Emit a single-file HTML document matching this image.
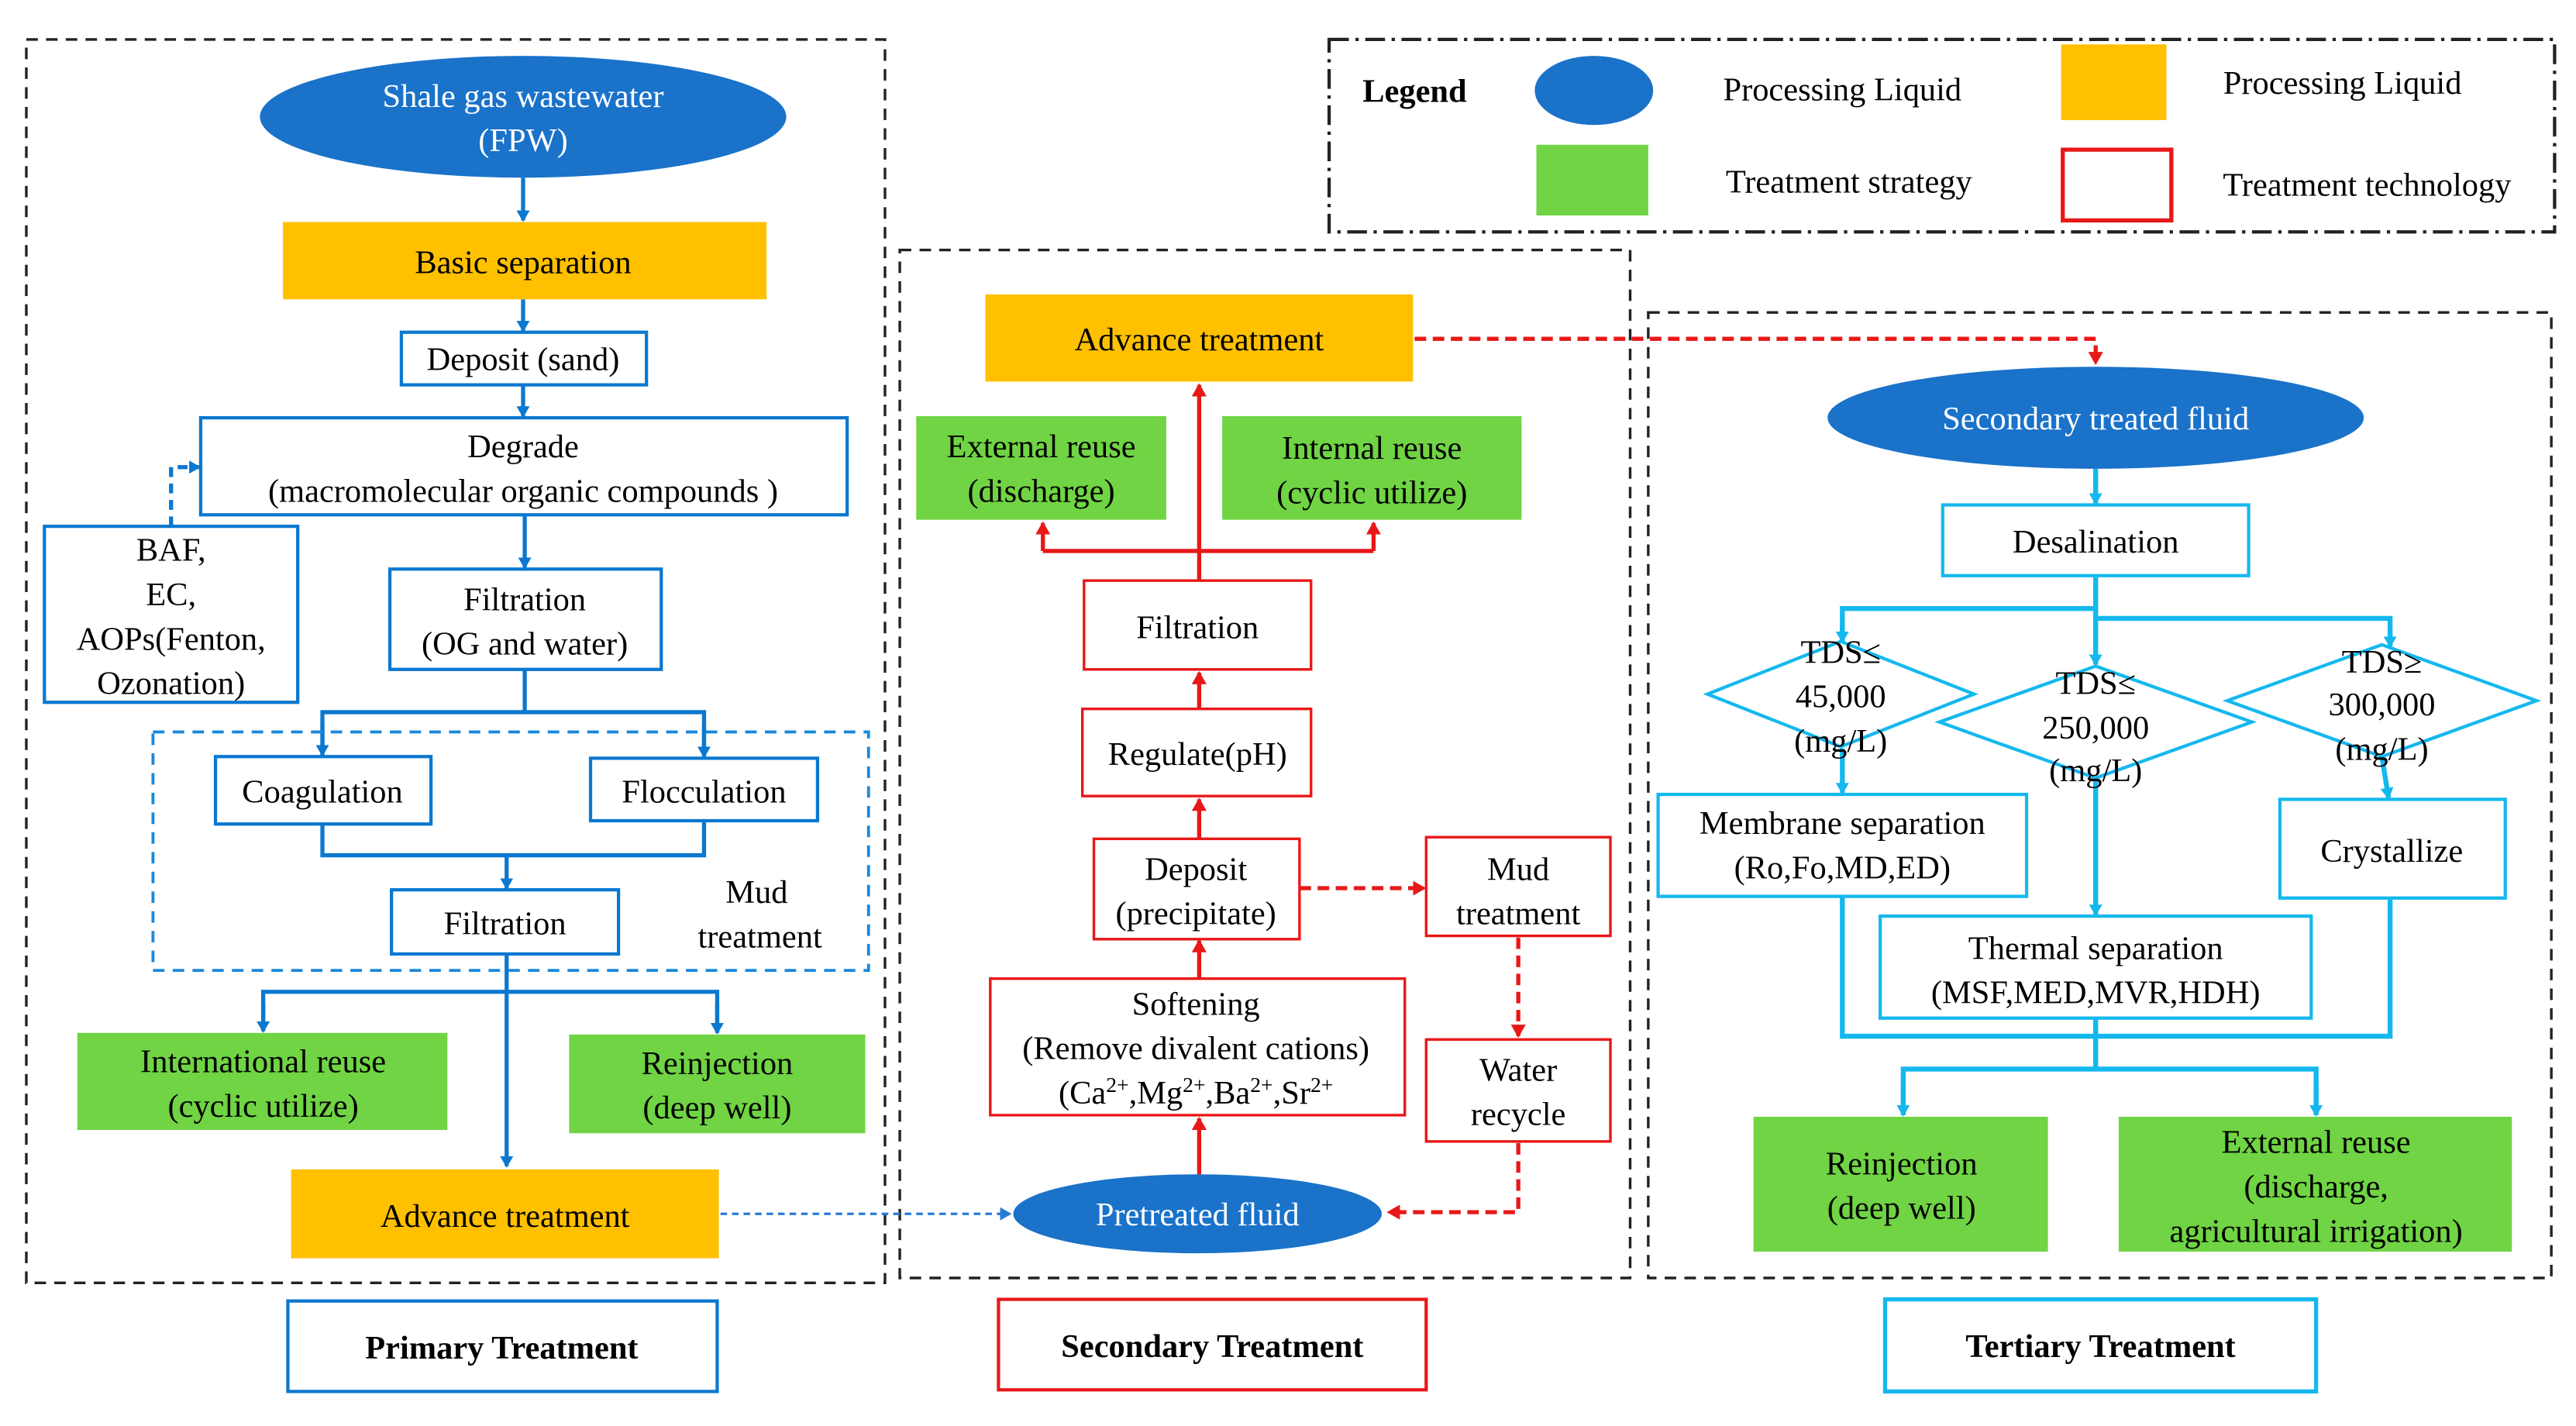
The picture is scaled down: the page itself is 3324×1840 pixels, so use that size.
<!DOCTYPE html>
<html><head><meta charset="utf-8"><style>html,body{margin:0;padding:0;background:#fff}svg{display:block}</style></head>
<body>
<svg width="3324" height="1840" viewBox="0 0 1566 867" preserveAspectRatio="none" xmlns="http://www.w3.org/2000/svg" font-family="Liberation Serif, serif" font-size="20" text-anchor="middle">
<defs>
<marker id="ab" markerWidth="8" markerHeight="8" refX="6" refY="4" orient="auto" markerUnits="userSpaceOnUse"><path d="M0,0 L7,4 L0,8 z" fill="#0a78d0"/></marker>
<marker id="ar" markerWidth="9" markerHeight="9" refX="7" refY="4.5" orient="auto" markerUnits="userSpaceOnUse"><path d="M0,0 L8,4.5 L0,9 z" fill="#e81818"/></marker>
<marker id="ac" markerWidth="8" markerHeight="8" refX="6" refY="4" orient="auto" markerUnits="userSpaceOnUse"><path d="M0,0 L7,4 L0,8 z" fill="#14b8ee"/></marker>
<marker id="ad" markerWidth="8" markerHeight="8" refX="6" refY="4" orient="auto" markerUnits="userSpaceOnUse"><path d="M0,0 L7,4 L0,8 z" fill="#2a7ad8"/></marker>
</defs>
<g fill="none" stroke="#222" stroke-width="1.6" stroke-dasharray="7,5">
<rect x="16" y="24" width="522" height="756"/>
<rect x="547" y="152" width="444" height="625"/>
<rect x="1002" y="190" width="549" height="587"/>
</g>
<rect x="808" y="24" width="745" height="117" fill="none" stroke="#222" stroke-width="2" stroke-dasharray="12,4,2,4"/>
<!-- Legend -->
<text x="860" y="62" font-weight="bold">Legend</text>
<ellipse cx="969" cy="55" rx="36" ry="21" fill="#1a72c9"/>
<text x="1120" y="61">Processing Liquid</text>
<rect x="1253" y="27" width="64" height="46" fill="#ffc000"/>
<text x="1424" y="57">Processing Liquid</text>
<rect x="934" y="88" width="68" height="43" fill="#70d444"/>
<text x="1124" y="117">Treatment strategy</text>
<rect x="1254" y="91" width="66" height="43" fill="none" stroke="#e81818" stroke-width="2.5"/>
<text x="1439" y="119">Treatment technology</text>

<!-- Primary -->
<g stroke="#0a78d0" stroke-width="2.5" fill="none">
<line x1="318" y1="108" x2="318" y2="134" marker-end="url(#ab)"/>
<line x1="318" y1="182" x2="318" y2="201" marker-end="url(#ab)"/>
<line x1="318" y1="234" x2="318" y2="253" marker-end="url(#ab)"/>
<line x1="319" y1="313" x2="319" y2="345" marker-end="url(#ab)"/>
<path d="M104,320 V284 H121" stroke-dasharray="6,4" marker-end="url(#ab)"/>
<line x1="319" y1="407" x2="319" y2="433"/>
<path d="M196,459 V433 H428 V459" />
<line x1="196" y1="440" x2="196" y2="459" marker-end="url(#ab)"/>
<line x1="428" y1="440" x2="428" y2="460" marker-end="url(#ab)"/>
<path d="M196,501 V520 H428 V499"/>
<line x1="308" y1="520" x2="308" y2="540" marker-end="url(#ab)"/>
<line x1="308" y1="580" x2="308" y2="709" marker-end="url(#ab)"/>
<path d="M160,626 V603 H436 V627"/>
<line x1="160" y1="610" x2="160" y2="627" marker-end="url(#ab)"/>
<line x1="436" y1="610" x2="436" y2="628" marker-end="url(#ab)"/>
</g>
<rect x="93" y="445" width="435" height="145" fill="none" stroke="#1a88dc" stroke-width="1.8" stroke-dasharray="7,5"/>
<ellipse cx="318" cy="71" rx="160" ry="37" fill="#1a72c9"/>
<text x="318" y="65" fill="#fff">Shale gas wastewater</text>
<text x="318" y="92" fill="#fff">(FPW)</text>
<rect x="172" y="135" width="294" height="47" fill="#ffc000"/>
<text x="318" y="166">Basic separation</text>
<g fill="#fff" stroke="#0a78d0" stroke-width="2">
<rect x="244" y="202" width="149" height="32"/>
<rect x="122" y="254" width="393" height="59"/>
<rect x="27" y="320" width="154" height="107"/>
<rect x="237" y="346" width="165" height="61"/>
<rect x="131" y="460" width="131" height="41"/>
<rect x="359" y="461" width="138" height="38"/>
<rect x="238" y="541" width="138" height="39"/>
<rect x="175" y="791" width="261" height="55"/>
</g>
<text x="318" y="225">Deposit (sand)</text>
<text x="318" y="278">Degrade</text>
<text x="318" y="305">(macromolecular organic compounds )</text>
<text x="104" y="341">BAF,</text>
<text x="104" y="368">EC,</text>
<text x="104" y="395">AOPs(Fenton,</text>
<text x="104" y="422">Ozonation)</text>
<text x="319" y="371">Filtration</text>
<text x="319" y="398">(OG and water)</text>
<text x="196" y="488">Coagulation</text>
<text x="428" y="488">Flocculation</text>
<text x="307" y="568">Filtration</text>
<text x="460" y="549">Mud</text>
<text x="462" y="576">treatment</text>
<rect x="47" y="628" width="225" height="59" fill="#70d444"/>
<text x="160" y="652">International reuse</text>
<text x="160" y="679">(cyclic utilize)</text>
<rect x="346" y="629" width="180" height="60" fill="#70d444"/>
<text x="436" y="653">Reinjection</text>
<text x="436" y="680">(deep well)</text>
<rect x="177" y="711" width="260" height="54" fill="#ffc000"/>
<text x="307" y="746">Advance treatment</text>
<line x1="438" y1="738" x2="614" y2="738" stroke="#2a7ad8" stroke-width="1.5" stroke-dasharray="4,3" marker-end="url(#ad)"/>
<text x="305" y="826" font-weight="bold">Primary Treatment</text>

<!-- Secondary -->
<g stroke="#e81818" stroke-width="2.5" fill="none">
<line x1="729" y1="353" x2="729" y2="234" marker-end="url(#ar)"/>
<path d="M634,335 H835"/>
<line x1="634" y1="335" x2="634" y2="318" marker-end="url(#ar)"/>
<line x1="835" y1="335" x2="835" y2="318" marker-end="url(#ar)"/>
<line x1="729" y1="431" x2="729" y2="409" marker-end="url(#ar)"/>
<line x1="729" y1="510" x2="729" y2="486" marker-end="url(#ar)"/>
<line x1="729" y1="595" x2="729" y2="572" marker-end="url(#ar)"/>
<line x1="729" y1="714" x2="729" y2="680" marker-end="url(#ar)"/>
<line x1="790" y1="540" x2="866" y2="540" stroke-dasharray="7,4" marker-end="url(#ar)"/>
<line x1="923" y1="570" x2="923" y2="630" stroke-dasharray="7,4" marker-end="url(#ar)"/>
<path d="M923,695 V737 H844" stroke-dasharray="7,4" marker-end="url(#ar)"/>
<path d="M860,206 H1274 V221" stroke-dasharray="7,4" marker-end="url(#ar)"/>
</g>
<rect x="599" y="179" width="260" height="53" fill="#ffc000"/>
<text x="729" y="213">Advance treatment</text>
<rect x="557" y="253" width="152" height="63" fill="#70d444"/>
<text x="633" y="278">External reuse</text>
<text x="633" y="305">(discharge)</text>
<rect x="743" y="253" width="182" height="63" fill="#70d444"/>
<text x="834" y="279">Internal reuse</text>
<text x="834" y="306">(cyclic utilize)</text>
<g fill="#fff" stroke="#e81818" stroke-width="1.6">
<rect x="659" y="353" width="138" height="54"/>
<rect x="658" y="431" width="139" height="53"/>
<rect x="665" y="510" width="125" height="61"/>
<rect x="867" y="509" width="112" height="60"/>
<rect x="867" y="632" width="112" height="62"/>
<rect x="602" y="595" width="252" height="83"/>
<rect x="607" y="790" width="260" height="55" stroke-width="2"/>
</g>
<text x="728" y="388">Filtration</text>
<text x="728" y="465">Regulate(pH)</text>
<text x="727" y="535">Deposit</text>
<text x="727" y="562">(precipitate)</text>
<text x="923" y="535">Mud</text>
<text x="923" y="562">treatment</text>
<text x="923" y="657">Water</text>
<text x="923" y="684">recycle</text>
<text x="727" y="617">Softening</text>
<text x="727" y="644">(Remove divalent cations)</text>
<text x="727" y="671">(Ca<tspan font-size="13" dy="-7">2+</tspan><tspan dy="7">,Mg</tspan><tspan font-size="13" dy="-7">2+</tspan><tspan dy="7">,Ba</tspan><tspan font-size="13" dy="-7">2+</tspan><tspan dy="7">,Sr</tspan><tspan font-size="13" dy="-7">2+</tspan></text>
<ellipse cx="728" cy="738" rx="112" ry="24" fill="#1a72c9"/>
<text x="728" y="745" fill="#fff">Pretreated fluid</text>
<text x="737" y="825" font-weight="bold">Secondary Treatment</text>

<!-- Tertiary -->
<g stroke="#14b8ee" stroke-width="3" fill="none">
<line x1="1274" y1="285" x2="1274" y2="306" marker-end="url(#ac)"/>
<line x1="1274" y1="350" x2="1274" y2="404" marker-end="url(#ac)"/>
<path d="M1274,370 H1120 V390" />
<path d="M1274,376 H1453 V392"/>
<line x1="1120" y1="380" x2="1120" y2="390" marker-end="url(#ac)"/>
<line x1="1453" y1="385" x2="1453" y2="393" marker-end="url(#ac)"/>
<line x1="1120" y1="455" x2="1120" y2="482" marker-end="url(#ac)"/>
<line x1="1274" y1="473" x2="1274" y2="556" marker-end="url(#ac)"/>
<line x1="1448" y1="460" x2="1452" y2="485" marker-end="url(#ac)"/>
<path d="M1120,545 V630 H1453 V546"/>
<path d="M1274,619 V650"/>
<path d="M1157,678 V650 H1408 V678"/>
<line x1="1157" y1="660" x2="1157" y2="678" marker-end="url(#ac)"/>
<line x1="1408" y1="660" x2="1408" y2="678" marker-end="url(#ac)"/>
</g>
<ellipse cx="1274" cy="254" rx="163" ry="31" fill="#1a72c9"/>
<text x="1274" y="261" fill="#fff">Secondary treated fluid</text>
<g fill="none" stroke="#14b8ee" stroke-width="2">
<rect x="1181" y="307" width="186" height="43" fill="#fff"/>
<polygon points="1038,422 1119,390 1200,422 1119,454"/>
<polygon points="1179,439 1274,405 1369,439 1274,473"/>
<polygon points="1354,426 1448,392 1542,426 1448,460"/>
<rect x="1008" y="483" width="224" height="62" fill="#fff"/>
<rect x="1143" y="557" width="262" height="62" fill="#fff"/>
<rect x="1386" y="486" width="137" height="60" fill="#fff"/>
<rect x="1146" y="790" width="262" height="56" fill="#fff" stroke-width="2.5"/>
</g>
<text x="1274" y="336">Desalination</text>
<text x="1119" y="403">TDS≤</text>
<text x="1119" y="430">45,000</text>
<text x="1119" y="457">(mg/L)</text>
<text x="1274" y="422">TDS≤</text>
<text x="1274" y="449">250,000</text>
<text x="1274" y="475">(mg/L)</text>
<text x="1448" y="409">TDS≥</text>
<text x="1448" y="435">300,000</text>
<text x="1448" y="462">(mg/L)</text>
<text x="1120" y="507">Membrane separation</text>
<text x="1120" y="534">(Ro,Fo,MD,ED)</text>
<text x="1274" y="583">Thermal separation</text>
<text x="1274" y="610">(MSF,MED,MVR,HDH)</text>
<text x="1454" y="524">Crystallize</text>
<rect x="1066" y="679" width="179" height="82" fill="#70d444"/>
<text x="1156" y="714">Reinjection</text>
<text x="1156" y="741">(deep well)</text>
<rect x="1288" y="679" width="239" height="82" fill="#70d444"/>
<text x="1408" y="701">External reuse</text>
<text x="1408" y="728">(discharge,</text>
<text x="1408" y="755">agricultural irrigation)</text>
<text x="1277" y="825" font-weight="bold">Tertiary Treatment</text>
</svg>
</body></html>
